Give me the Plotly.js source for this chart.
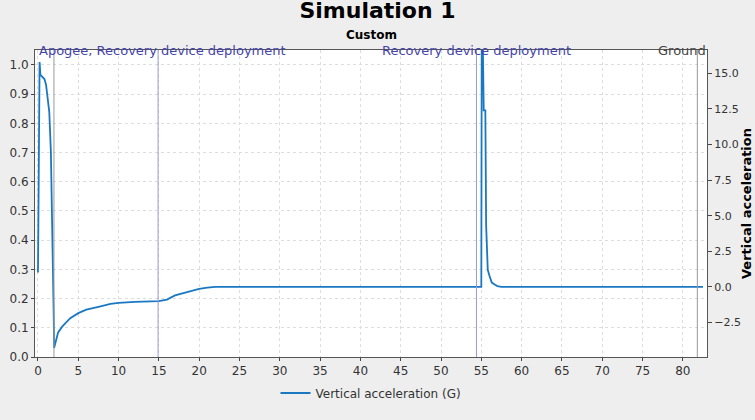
<!DOCTYPE html>
<html>
<head>
<meta charset="utf-8">
<script src="https://cdn.plot.ly/plotly-3.0.1.min.js"></script>
<style>body{margin:0;background:#eeeeee}</style>
</head>
<body>
<div id="chart" style="width:755px;height:420px"></div>
<script>
// vertical acceleration (G)
var time = [0, 0.1, 0.2, 0.3, 0.5, 0.8, 1.0, 1.2, 1.4, 1.6, 1.8, 1.95, 2.0, 2.2, 2.5, 3.0, 3.5, 4.0, 5.0, 6.0, 7.5, 9.0, 10.0, 12.0, 15.0, 16.0, 17.0, 18.5, 20.0, 21.0, 22.0,
            30.0, 40.0, 50.0, 55.0, 55.05, 55.2, 55.3, 55.5, 55.6, 55.7, 55.8, 56.0, 56.3, 56.7, 57.0, 57.5, 60.0, 70.0, 82.5];
var accel = [1.0, 9.0, 15.8, 14.9, 14.8, 14.6, 14.2, 13.4, 12.3, 9.5, 4.0, -2.0, -4.3, -3.9, -3.2, -2.8, -2.5, -2.2, -1.85, -1.6, -1.4, -1.2, -1.13, -1.05, -1.0, -0.9, -0.6, -0.35, -0.15, -0.05, 0.0,
             0.0, 0.0, 0.0, 0.0, 16.6, 16.6, 12.4, 12.4, 4.3, 2.2, 1.2, 0.8, 0.3, 0.15, 0.05, 0.0, 0.0, 0.0, 0.0];

var eventTimes = [1.98, 14.9, 54.4, 81.8];
var eventColors = ['#999999', '#9a9ad8', '#9a9ad8', '#999999'];

var shapes = eventTimes.map(function (t, i) {
    return {type: 'line', xref: 'x', yref: 'paper', x0: t, x1: t, y0: 0, y1: 1,
            line: {color: eventColors[i], width: 1}};
});

var annotations = [
    {text: 'Apogee, Recovery device deployment', x: 0.0, xanchor: 'left', color: '#4444aa'},
    {text: 'Recovery device deployment', x: 54.4, xanchor: 'center', color: '#4444aa'},
    {text: 'Ground', x: 83.0, xanchor: 'right', color: '#444444'}
].map(function (a) {
    return {text: a.text, x: a.x, xanchor: a.xanchor, xref: 'x', yref: 'paper', y: 1.0, yanchor: 'middle',
            showarrow: false, borderpad: 0, font: {family: 'DejaVu Sans', size: 13, color: a.color}};
});
annotations.push({text: '<b>Custom</b>', xref: 'paper', yref: 'paper', x: 0.5, y: 1.02, yanchor: 'bottom',
                  showarrow: false, font: {family: 'DejaVu Sans', size: 12, color: '#000'}});

var trace = {
    x: time, y: accel, yaxis: 'y2', mode: 'lines', type: 'scatter',
    name: 'Vertical acceleration (G)', line: {color: '#1a78c2', width: 1.8}
};
// invisible trace to keep the left axis visible
var dummy = {x: [0], y: [0.5], mode: 'markers', marker: {opacity: 0}, showlegend: false, hoverinfo: 'skip'};

var grid = {showgrid: true, gridcolor: '#dddddd', griddash: '3px,3px', gridwidth: 1, zeroline: false};
var layout = {
    paper_bgcolor: '#eeeeee', plot_bgcolor: '#ffffff',
    margin: {l: 35, r: 48, t: 50, b: 42},
    title: {text: '<b>Simulation 1</b>', x: 0.5, y: 0.995, yanchor: 'top',
            font: {family: 'DejaVu Sans', size: 22, color: '#000'}},
    font: {family: 'DejaVu Sans', size: 12, color: '#333'},
    xaxis: Object.assign({range: [-0.37, 83.0], dtick: 5, ticks: 'outside', ticklen: 3,
                          showline: true, linecolor: '#555', mirror: true}, grid),
    yaxis: Object.assign({range: [0, 1.051], dtick: 0.1, tickformat: '.1f', ticks: 'outside', ticklen: 3,
                          showline: true, linecolor: '#555'}, grid),
    yaxis2: {overlaying: 'y', side: 'right', range: [-4.93, 16.64], dtick: 2.5, tickformat: '.1f',
             ticks: 'outside', ticklen: 4, showgrid: false, zeroline: false, showline: true, linecolor: '#555',
             tickfont: {size: 11},
             title: {text: '<b>Vertical acceleration</b>', font: {size: 13, color: '#000'}, standoff: 0}},
    showlegend: true,
    legend: {orientation: 'h', x: 0.5, xanchor: 'center', y: -0.07, yanchor: 'top', bgcolor: 'rgba(0,0,0,0)',
             font: {size: 12, color: '#333'}},
    shapes: shapes, annotations: annotations
};
Plotly.newPlot('chart', [dummy, trace], layout, {displayModeBar: false});
</script>
</body>
</html>
